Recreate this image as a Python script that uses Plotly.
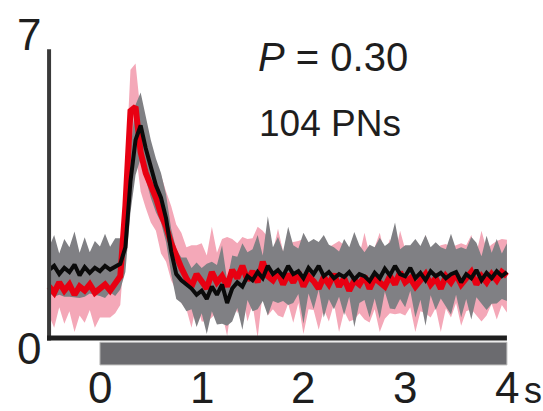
import plotly.graph_objects as go

# ---- data ----
T_START = -0.5   # s, first bin
BIN = 0.05       # s, bin width

# black trace: mean rate and spread (gray band)
black_mean = [
    1.65, 1.75, 1.55, 1.70, 1.60, 1.78, 1.52, 1.72, 1.58, 1.70,
    1.62, 1.75, 1.66, 1.72, 1.80,
    2.20, 3.80, 4.80, 5.15, 4.60, 4.10, 3.70, 3.40, 2.90, 2.10, 1.55, 1.40,
    1.30, 1.20, 1.05, 1.15, 0.95, 1.25, 1.05, 1.30, 0.85, 1.20,
    1.35, 1.25, 1.50, 1.40, 1.60, 1.45, 1.75, 1.55, 1.65, 1.50,
    1.75, 1.55, 1.62, 1.45, 1.70, 1.55, 1.75, 1.50, 1.60, 1.45,
    1.55, 1.48, 1.60, 1.42, 1.55, 1.50, 1.38, 1.58, 1.45, 1.68,
    1.52, 1.75, 1.55, 1.50, 1.70, 1.45, 1.58, 1.40, 1.62, 1.50,
    1.58, 1.45, 1.55, 1.60, 1.35, 1.55, 1.45, 1.65, 1.40, 1.58,
    1.45, 1.62, 1.50, 1.60,
]
black_sd = [
    0.55, 0.75, 0.50, 0.70, 0.60, 0.80, 0.55, 0.72, 0.50, 0.65,
    0.60, 0.78, 0.55, 0.70, 0.62,
    0.60, 0.75, 0.85, 0.80, 0.75, 0.70, 0.65, 0.60, 0.58, 0.55, 0.60, 0.55,
    0.65, 0.50, 0.78, 0.55, 0.85, 0.60, 0.72, 0.95, 0.55, 0.80,
    0.62, 1.05, 0.58, 0.75, 0.90, 0.55, 1.20, 0.65, 0.80, 0.60,
    0.95, 0.70, 0.55, 1.10, 0.62, 0.85, 0.58, 1.00, 0.66, 0.75,
    0.55, 0.92, 0.60, 1.15, 0.70, 0.58, 0.88, 0.62, 0.98, 0.55,
    0.80, 1.05, 0.60, 0.75, 0.55, 0.95, 0.65, 1.10, 0.58, 0.82,
    0.62, 0.70, 0.98, 0.55, 0.85, 0.60, 1.00, 0.66, 0.58, 0.90,
    0.62, 0.78, 0.55, 0.70,
]

# red trace: mean rate and spread (pink band)
red_mean = [
    1.25, 1.10, 1.35, 1.15, 1.30, 1.05, 1.25, 1.15, 1.30, 1.10,
    1.20, 1.30, 1.15, 1.35, 1.50,
    3.20, 5.50, 5.60, 4.50, 4.00, 3.70, 3.40, 3.00, 2.70, 2.30, 1.95, 1.70,
    1.45, 1.25, 1.55, 1.35, 1.20, 1.60, 1.35, 1.50, 1.25, 1.65,
    1.45, 1.75, 1.40, 1.62, 1.35, 1.85, 1.50, 1.40, 1.60, 1.30,
    1.55, 1.35, 1.60, 1.25, 1.50, 1.38, 1.20, 1.48, 1.30, 1.55,
    1.25, 1.45, 1.15, 1.40, 1.30, 1.50, 1.20, 1.45, 1.35, 1.25,
    1.50, 1.30, 1.60, 1.35, 1.45, 1.25, 1.40, 1.55, 1.30, 1.45,
    1.20, 1.50, 1.35, 1.55, 1.30, 1.45, 1.60, 1.30, 1.50, 1.35,
    1.55, 1.40, 1.60, 1.50,
]
red_sd = [
    0.70, 0.85, 0.60, 0.80, 0.65, 0.90, 0.70, 0.78, 0.62, 0.85,
    0.70, 0.80, 0.65, 0.75, 0.70,
    0.75, 1.00, 1.05, 0.95, 0.85, 0.90, 0.80, 0.95, 0.85, 0.90, 0.80, 0.85,
    0.75, 1.00, 0.70, 0.95, 0.80, 1.10, 0.72, 0.90, 1.20, 0.75,
    0.85, 0.70, 1.00, 0.80, 1.35, 0.75, 0.95, 0.70, 1.05, 0.80,
    0.72, 0.98, 0.75, 1.15, 0.80, 0.70, 1.00, 0.78, 0.90, 0.72,
    1.10, 0.80, 0.75, 0.95, 0.70, 1.05, 0.82, 0.75, 1.20, 0.78,
    0.90, 0.72, 1.00, 0.80, 0.70, 1.10, 0.75, 0.95, 0.80, 0.72,
    1.05, 0.78, 0.85, 0.70, 1.00, 0.80, 0.90, 0.75, 1.10, 0.80,
    0.72, 0.95, 0.80, 0.88,
]

STIM = (0.0, 4.0)          # odor stimulus period, s
X_TICKS = [0, 1, 2, 3, 4]
X_TICK_TEXT = ["0", "1", "2", "3", "4"]
X_UNIT = "s"
Y_LABELS = [0, 7]
P_TEXT = "<i>P</i> = 0.30"
N_TEXT = "104 PNs"

n = len(black_mean)
assert all(len(a) == n for a in (black_sd, red_mean, red_sd))
t = [round(T_START + BIN * i, 4) for i in range(n)]

FONT = "Liberation Sans Narrow, Arial Narrow, Liberation Sans, Arial, sans-serif"
TXT = "#1e1e1e"

fig = go.Figure()

def band(mean, sd, color):
    up = [m + s for m, s in zip(mean, sd)]
    lo = [m - s for m, s in zip(mean, sd)]
    fig.add_trace(go.Scatter(x=t, y=up, mode="lines", line=dict(width=0),
                             hoverinfo="skip", showlegend=False))
    fig.add_trace(go.Scatter(x=t, y=lo, mode="lines", line=dict(width=0),
                             fill="tonexty", fillcolor=color,
                             hoverinfo="skip", showlegend=False))

band(red_mean, red_sd, "rgb(244,168,184)")
band(black_mean, black_sd, "rgb(128,128,132)")
fig.add_trace(go.Scatter(x=t, y=red_mean, mode="lines",
                         line=dict(color="rgb(232,0,18)", width=6),
                         showlegend=False))
fig.add_trace(go.Scatter(x=t, y=black_mean, mode="lines",
                         line=dict(color="rgb(10,10,10)", width=4),
                         showlegend=False))

# axis lines and stimulus bar
fig.add_shape(type="line", x0=T_START, x1=T_START, y0=-0.06, y1=7.0,
              xref="x", yref="y", line=dict(color="#3a3a3a", width=4))
fig.add_shape(type="line", x0=T_START - 0.02, x1=t[-1], y0=0, y1=0,
              xref="x", yref="y", line=dict(color="#1e1e1e", width=5))
fig.add_shape(type="rect", x0=STIM[0], x1=STIM[1], y0=-0.10, y1=-0.65,
              xref="x", yref="y", fillcolor="#6b6b6f",
              line=dict(color="#bdbdbd", width=1))

ann = []
for v, s in zip(X_TICKS, X_TICK_TEXT):
    ann.append(dict(x=v, y=0, xref="x", yref="y", text=s, showarrow=False,
                    xanchor="center", yanchor="middle", yshift=-49,
                    font=dict(family=FONT, size=44, color=TXT)))
ann.append(dict(x=X_TICKS[-1], y=0, xref="x", yref="y", text=X_UNIT, showarrow=False,
                xanchor="center", yanchor="middle", yshift=-52, xshift=26,
                font=dict(family=FONT, size=36, color=TXT)))
for v, dy in zip(Y_LABELS, (-10, 15)):
    ann.append(dict(x=T_START, y=v, xref="x", yref="y", text=str(v), showarrow=False,
                    xanchor="center", yanchor="middle", xshift=-20, yshift=dy,
                    font=dict(family=FONT, size=44, color=TXT)))
ann.append(dict(x=0.452, y=0.963, xref="paper", yref="paper", text=P_TEXT,
                showarrow=False, xanchor="left", yanchor="middle",
                font=dict(family=FONT, size=40, color=TXT)))
ann.append(dict(x=0.455, y=0.755, xref="paper", yref="paper", text=N_TEXT,
                showarrow=False, xanchor="left", yanchor="middle",
                font=dict(family=FONT, size=37, color=TXT)))

fig.update_layout(
    width=543, height=411, autosize=False,
    margin=dict(l=45, r=32, t=45, b=44, pad=0),
    paper_bgcolor="white", plot_bgcolor="white",
    xaxis=dict(range=[-0.54, 4.04], visible=False, fixedrange=True),
    yaxis=dict(range=[-0.7, 7.1], visible=False, fixedrange=True),
    annotations=ann,
    showlegend=False,
)

fig.write_html("out.html",
               config={"displayModeBar": False},
               post_script="document.body.style.margin='0px';document.body.style.overflow='hidden';")
